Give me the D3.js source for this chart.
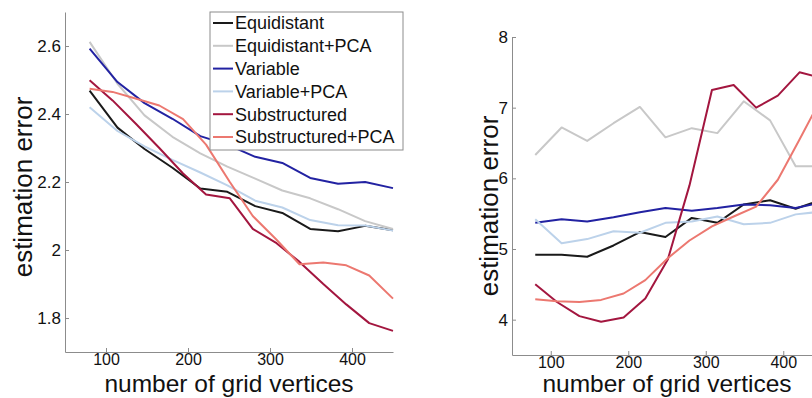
<!DOCTYPE html>
<html>
<head>
<meta charset="utf-8">
<script src="https://cdn.jsdelivr.net/npm/d3@7"></script>
<style>
  body { margin: 0; background: #fff; }
  svg text { font-family: "Liberation Sans", Arial, sans-serif; fill: #111; }
  .axis path, .axis line { stroke: #8c8c8c; }
</style>
</head>
<body>
<svg id="chart" width="812" height="398"></svg>
<script>
// series labels and colours (legend order)
const seriesNames = ["Equidistant", "Equidistant+PCA", "Variable", "Variable+PCA", "Substructured", "Substructured+PCA"];
const seriesColors = ["#1a1a1a", "#c8c8c8", "#2222a2", "#bcd2ea", "#a3163f", "#ec7870"];

// number of grid vertices
const xGrid = [80, 114, 147, 181, 215, 248, 282, 315, 349, 383, 416, 450];
const xSub = [80, 108, 137, 165, 194, 222, 251, 279, 308, 336, 365, 393, 421, 450];

// left panel
const leftEquidistant = [2.469, 2.36, 2.297, 2.242, 2.181, 2.171, 2.129, 2.109, 2.062, 2.055, 2.071, 2.058];
const leftEquidistantPCA = [2.612, 2.489, 2.396, 2.333, 2.284, 2.245, 2.21, 2.175, 2.152, 2.12, 2.085, 2.062];
const leftVariable = [2.592, 2.494, 2.432, 2.386, 2.335, 2.31, 2.274, 2.256, 2.212, 2.195, 2.2, 2.182];
const leftVariablePCA = [2.42, 2.35, 2.305, 2.265, 2.228, 2.19, 2.145, 2.125, 2.088, 2.073, 2.072, 2.057];
const leftSubstructured = [2.499, 2.44, 2.37, 2.3, 2.225, 2.163, 2.152, 2.062, 2.02, 1.965, 1.9, 1.84, 1.785, 1.762];
const leftSubstructuredPCA = [2.474, 2.465, 2.445, 2.425, 2.385, 2.31, 2.2, 2.1, 2.03, 1.958, 1.963, 1.955, 1.925, 1.857];

// right panel
const rightEquidistant = [4.92, 4.92, 4.89, 5.05, 5.24, 5.17, 5.44, 5.37, 5.63, 5.69, 5.57, 5.7];
const rightEquidistantPCA = [6.33, 6.72, 6.53, 6.78, 7.01, 6.58, 6.71, 6.64, 7.09, 6.82, 6.17, 6.17];
const rightVariable = [5.37, 5.42, 5.39, 5.45, 5.52, 5.58, 5.54, 5.58, 5.63, 5.62, 5.58, 5.66];
const rightVariablePCA = [5.42, 5.08, 5.14, 5.25, 5.23, 5.37, 5.39, 5.46, 5.35, 5.37, 5.49, 5.53];
const rightSubstructured = [4.5, 4.25, 4.05, 3.97, 4.03, 4.3, 4.85, 5.9, 7.25, 7.32, 7.0, 7.17, 7.5, 7.42];
const rightSubstructuredPCA = [4.29, 4.26, 4.25, 4.28, 4.37, 4.56, 4.87, 5.12, 5.32, 5.46, 5.6, 5.98, 6.55, 7.15];

const xTicks = [100, 200, 300, 400];
const leftYTicks = [1.8, 2, 2.2, 2.4, 2.6];
const rightYTicks = [4, 5, 6, 7, 8];

const svg = d3.select("#chart");

function drawPanel(opts) {
  let x = d3.scaleLinear().domain([50, 450]).range([opts.x0, opts.x1]);
  let y = d3.scaleLinear().domain(opts.yDomain).range([opts.y1, opts.y0]);
  let g = svg.append("g");

  g.append("g")
    .attr("class", "axis")
    .attr("transform", `translate(0,${opts.y1})`)
    .call(d3.axisBottom(x).tickValues(xTicks).tickSizeInner(-4).tickSizeOuter(0).tickPadding(2))
    .call(a => a.selectAll("text").style("font-size", "16px").attr("fill", "#111"));

  g.append("g")
    .attr("class", "axis")
    .attr("transform", `translate(${opts.x0},0)`)
    .call(d3.axisLeft(y).tickValues(opts.yTicks).tickSizeInner(-4).tickSizeOuter(0).tickPadding(4)
      .tickFormat(d3.format("")))
    .call(a => a.selectAll("text").style("font-size", "17px").attr("fill", "#111"));

  let line = d3.line()
    .x(d => x(d[0]))
    .y(d => y(d[1]));

  opts.series.forEach((s, i) => {
    g.append("path")
      .datum(s.xs.map((v, j) => [v, s.ys[j]]))
      .attr("fill", "none")
      .attr("stroke", seriesColors[i])
      .attr("stroke-width", 2)
      .attr("stroke-linejoin", "round")
      .attr("d", line);
  });

  g.append("text")
    .attr("x", (opts.x0 + opts.x1) / 2)
    .attr("y", 392)
    .attr("text-anchor", "middle")
    .style("font-size", "24.5px")
    .text("number of grid vertices");

  g.append("text")
    .attr("transform", `translate(${opts.yTitleX},${opts.yTitleY}) rotate(-90)`)
    .attr("text-anchor", "middle")
    .style("font-size", "26px")
    .text("estimation error");

  return g;
}

drawPanel({
  x0: 65, x1: 393, y0: 12, y1: 352,
  yDomain: [1.7, 2.7], yTicks: leftYTicks,
  yTitleX: 32, yTitleY: 187,
  series: [
    { xs: xGrid, ys: leftEquidistant },
    { xs: xGrid, ys: leftEquidistantPCA },
    { xs: xGrid, ys: leftVariable },
    { xs: xGrid, ys: leftVariablePCA },
    { xs: xSub, ys: leftSubstructured },
    { xs: xSub, ys: leftSubstructuredPCA }
  ]
});

drawPanel({
  x0: 512, x1: 822, y0: 37, y1: 355,
  yDomain: [3.5, 8], yTicks: rightYTicks,
  yTitleX: 498, yTitleY: 206,
  series: [
    { xs: xGrid, ys: rightEquidistant },
    { xs: xGrid, ys: rightEquidistantPCA },
    { xs: xGrid, ys: rightVariable },
    { xs: xGrid, ys: rightVariablePCA },
    { xs: xSub, ys: rightSubstructured },
    { xs: xSub, ys: rightSubstructuredPCA }
  ]
});

// legend (left panel)
let legend = svg.append("g").attr("transform", "translate(210,12)");
legend.append("rect")
  .attr("width", 193)
  .attr("height", 138)
  .attr("fill", "#fff")
  .attr("stroke", "#8c8c8c");

let rowH = 22.8;
let item = legend.selectAll("g.item")
  .data(seriesNames)
  .enter()
  .append("g")
  .classed("item", true)
  .attr("transform", (d, i) => `translate(0,${11 + i * rowH})`);

item.append("line")
  .attr("x1", 3).attr("x2", 23)
  .attr("stroke", (d, i) => seriesColors[i])
  .attr("stroke-width", 2);

item.append("text")
  .attr("x", 25)
  .attr("dy", "0.36em")
  .style("font-size", "18px")
  .text(d => d);
</script>
</body>
</html>
